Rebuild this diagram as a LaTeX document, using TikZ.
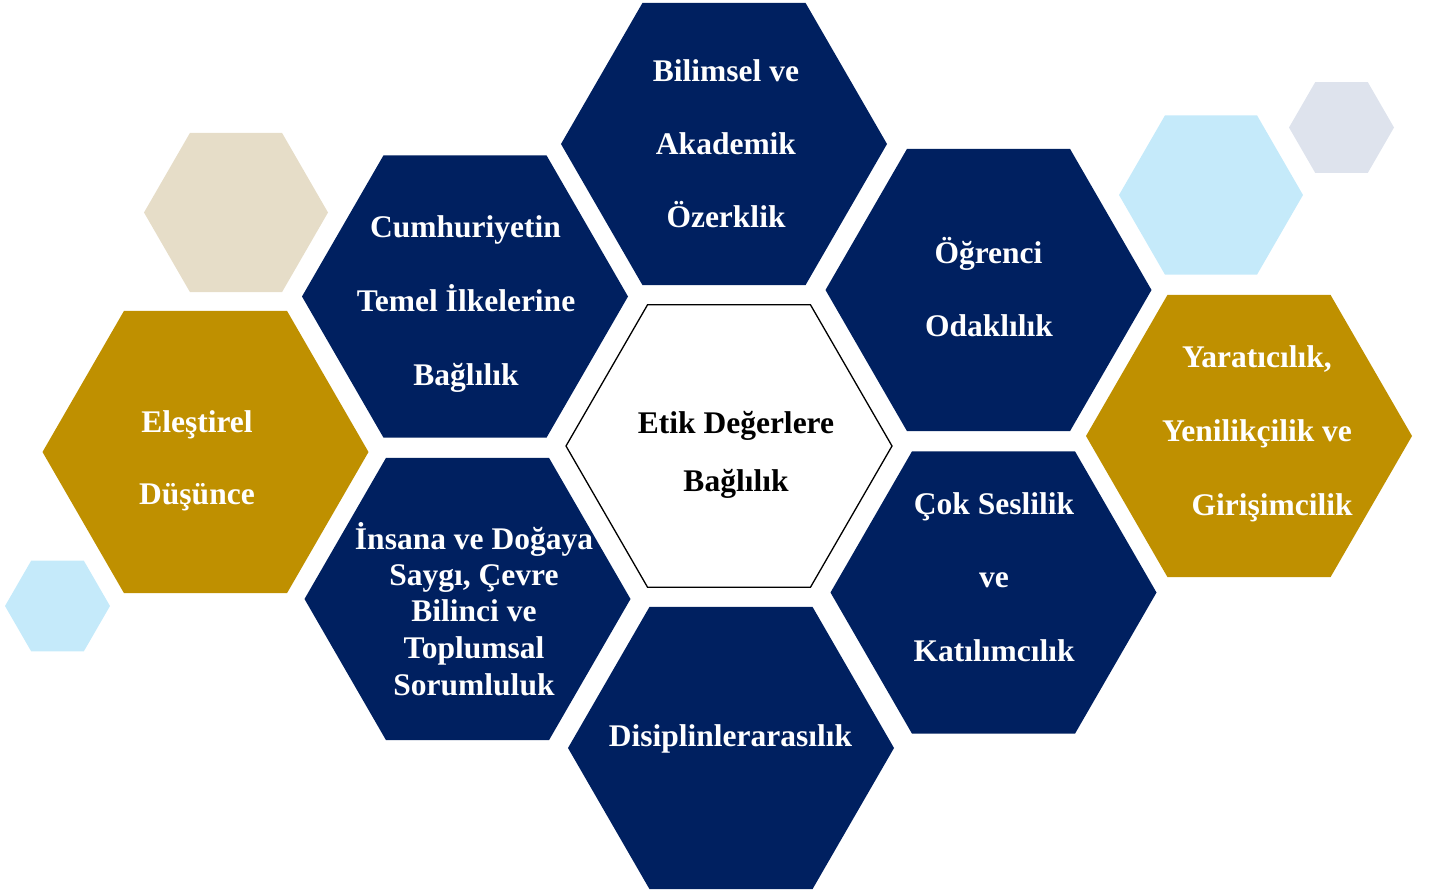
\documentclass[tikz,border=0pt]{standalone}
\usepackage{fontspec}
\setmainfont{Liberation Serif}
\usetikzlibrary{shapes.geometric}
\definecolor{navy}{RGB}{0,32,96}
\definecolor{gold}{RGB}{191,144,0}
\definecolor{beige}{RGB}{230,221,200}
\definecolor{skyb}{RGB}{197,234,250}
\definecolor{greyb}{RGB}{222,227,237}
\tikzset{
  hexa/.style={shape=regular polygon, regular polygon sides=6, inner sep=0pt, outer sep=0pt, draw=none, minimum size=#1},
  txt/.style={anchor=base, inner sep=0pt, text=white, font=\fontsize{31.5}{36}\selectfont\bfseries},
  btxt/.style={txt, text=black}
}
\begin{document}
\begin{tikzpicture}[x=1pt,y=-1pt]
\useasboundingbox (0,0) rectangle (1429,892);
% decorative hexagons
\node[hexa=184pt, fill=beige] (hbeige) at (236,212.5) {};
\node[hexa=184pt, fill=skyb] (hsky) at (1211,195) {};
\node[hexa=105pt, fill=greyb] (hgrey) at (1341.5,127.5) {};
\node[hexa=105pt, fill=skyb] (hskysmall) at (57.5,606) {};
% main hexagons
\node[hexa=326pt, fill=navy] (hbil) at (724,144) {};
\node[hexa=326pt, fill=navy] (hcum) at (465,296.5) {};
\node[hexa=326pt, fill=navy] (hins) at (467.5,599) {};
\node[hexa=326pt, fill=navy] (hdis) at (731,748) {};
\node[hexa=326pt, fill=navy] (hogr) at (988.5,290) {};
\node[hexa=326pt, fill=navy] (hcok) at (993.5,592.5) {};
\node[hexa=326pt, fill=gold] (hele) at (205.5,452) {};
\node[hexa=326pt, fill=gold] (hyar) at (1249,436) {};
\node[hexa=326pt, fill=white, draw=black, line width=1.3pt] (hetik) at (729,446) {};
% texts
\node[txt] (t1a) at (726,81) {Bilimsel ve};
\node[txt] (t1b) at (726,154.3) {Akademik};
\node[txt] (t1c) at (726,227.6) {Özerklik};
\node[txt] (t2a) at (465.5,237.3) {Cumhuriyetin};
\node[txt] (t2b) at (466,311.3) {Temel İlkelerine};
\node[txt] (t2c) at (466,385) {Bağlılık};
\node[txt] (t3a) at (988.5,263.3) {Öğrenci};
\node[txt] (t3b) at (989,336.7) {Odaklılık};
\node[btxt] (t4a) at (736,433.3) {Etik Değerlere};
\node[btxt] (t4b) at (736,491) {Bağlılık};
\node[txt] (t5a) at (197,432) {Eleştirel};
\node[txt] (t5b) at (197,504.5) {Düşünce};
\node[txt] (t6a) at (1257,367.7) {Yaratıcılık,};
\node[txt] (t6b) at (1257,441.7) {Yenilikçilik ve};
\node[txt] (t6c) at (1272,515.7) {Girişimcilik};
\node[txt] (t7a) at (994,514) {Çok Seslilik};
\node[txt] (t7b) at (994,587.7) {ve};
\node[txt] (t7c) at (994,661.7) {Katılımcılık};
\node[txt] (t8a) at (474,549.3) {İnsana ve Doğaya};
\node[txt] (t8b) at (474,585.5) {Saygı, Çevre};
\node[txt] (t8c) at (474,621.7) {Bilinci ve};
\node[txt] (t8d) at (474,658.3) {Toplumsal};
\node[txt] (t8e) at (474,695.5) {Sorumluluk};
\node[txt] (t9a) at (730.5,746.7) {Disiplinlerarasılık};
\end{tikzpicture}
\end{document}
